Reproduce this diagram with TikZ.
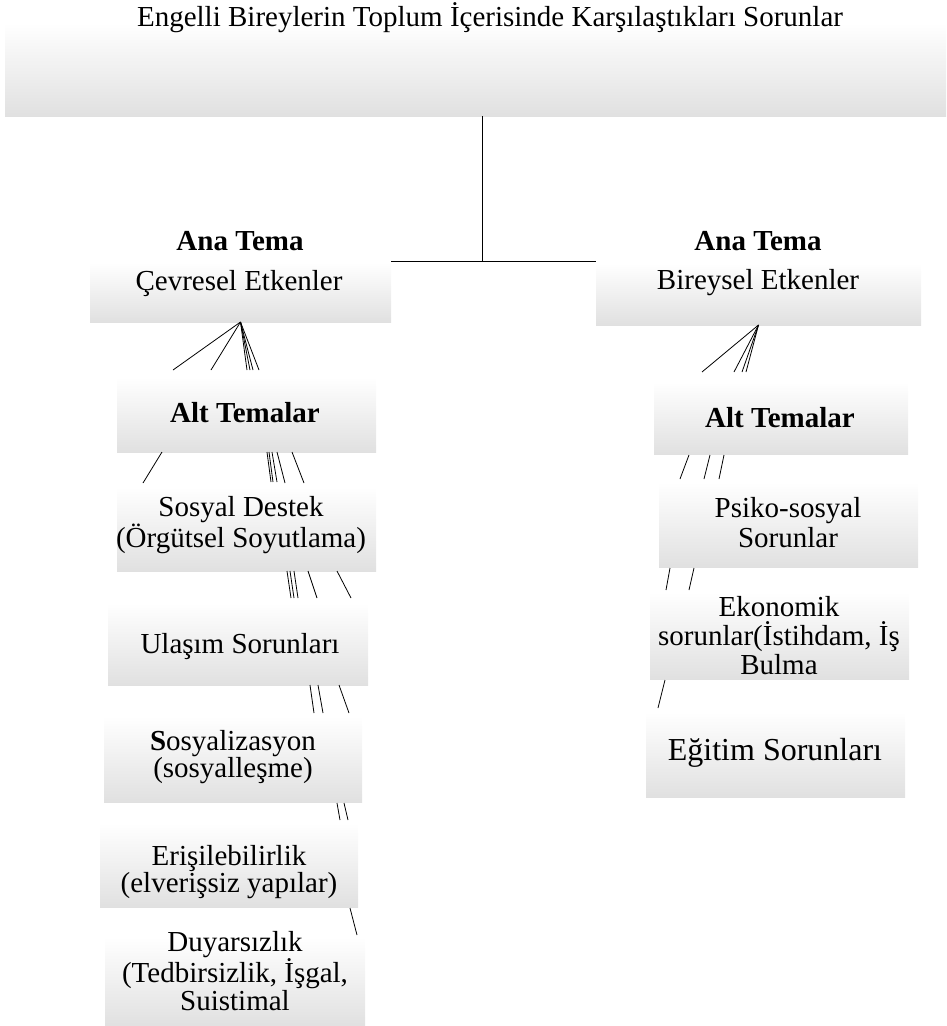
\documentclass[tikz,border=0pt]{standalone}
\usepackage{fontspec}
\setmainfont{Liberation Serif}
\newcommand\gbx[5]{\node[gbox, minimum width=#4pt, minimum height=#5pt] (#1) at (#2,#3) {};}
\begin{document}
\begin{tikzpicture}[x=1pt,y=-1pt,
  gbox/.style={draw=none, rectangle, inner sep=0pt, outer sep=0pt, anchor=north west, top color=white, bottom color=gray!24},
  txt/.style={inner sep=0pt, align=center, font=\fontsize{29}{26}\selectfont},
  ln/.style={line width=0.8pt, black}]
\useasboundingbox (0,0) rectangle (946,1026);
% boxes
\gbx{title}{5}{23}{941}{93}
\gbx{cev}{90}{263}{301}{59}
\gbx{bir}{596}{263}{325}{62}
\gbx{altL}{117}{377}{259}{75}
\gbx{altR}{654}{382}{254}{72}
\gbx{sos}{117}{487}{259}{84}
\gbx{ula}{108}{603}{260}{82}
\gbx{szn}{104}{716}{258}{86}
\gbx{eri}{100}{823}{258}{84}
\gbx{duy}{105}{937}{260}{89}
\gbx{psi}{659}{482}{259}{85}
\gbx{eko}{650}{592}{259}{87}
\gbx{egi}{646}{712}{259}{85}
% texts
\node[txt] (ttl) at (490,18) {Engelli Bireylerin Toplum İçerisinde Karşılaştıkları Sorunlar};
\node[txt, font=\fontsize{29}{26}\selectfont\bfseries] (anaL) at (240,241) {Ana Tema};
\node[txt] (cevT) at (239,284) {Çevresel Etkenler};
\node[txt, font=\fontsize{29}{26}\selectfont\bfseries] (anaR) at (758,241) {Ana Tema};
\node[txt] (birT) at (758,283) {Bireysel Etkenler};
\node[txt, font=\fontsize{29}{26}\selectfont\bfseries] (altLT) at (245,413) {Alt Temalar};
\node[txt, font=\fontsize{29}{26}\selectfont\bfseries] (altRT) at (780,418) {Alt Temalar};
\node[txt, font=\fontsize{29}{24}\selectfont] (sosT) at (241,525) {Sosyal Destek\\(Örgütsel Soyutlama)};
\node[txt] (ulaT) at (240,647) {Ulaşım Sorunları};
\node[txt, font=\fontsize{29}{27}\selectfont] (sznT) at (233,757) {\textbf{S}osyalizasyon\\(sosyalleşme)};
\node[txt, font=\fontsize{29}{27}\selectfont] (eriT) at (229,872) {Erişilebilirlik\\(elverişsiz yapılar)};
\node[txt, font=\fontsize{29}{26}\selectfont] (duyT) at (235,971) {Duyarsızlık\\(Tedbirsizlik, İşgal,\\Suistimal};
\node[txt, font=\fontsize{29}{30}\selectfont] (psiT) at (788,523) {Psiko-sosyal\\Sorunlar};
\node[txt, font=\fontsize{29}{29}\selectfont] (ekoT) at (779,636) {Ekonomik\\sorunlar(İstihdam, İş\\Bulma};
\node[txt, font=\fontsize{32}{30}\selectfont] (egiT) at (775,753) {Eğitim Sorunları};
% main connector
\coordinate (hub) at (482,261);
\draw[ln] (title.south -| hub) -- (hub);
\draw[ln] (hub) -- (cev.north east |- hub);
\draw[ln] (hub) -- (bir.north west |- hub);
% fan from Çevresel Etkenler
\foreach \e in {173,211,247,250,253,259} \draw[ln] (cev.south) -- (\e,370);
% fan from Bireysel Etkenler
\foreach \e in {702,734,742,746} \draw[ln] (bir.south) -- (\e,372);
% fragments below left Alt Temalar
\draw[ln] (162,452) -- (143,483);
\draw[ln] (267,452) -- (271,482);
\draw[ln] (269,452) -- (273,482);
\draw[ln] (272,452) -- (277,482);
\draw[ln] (277,452) -- (285,483);
\draw[ln] (292,452) -- (304,483);
% below Sosyal Destek
\draw[ln] (287,571) -- (291,598);
\draw[ln] (290,571) -- (294,598);
\draw[ln] (294,571) -- (298,598);
\draw[ln] (308,571) -- (317,598);
\draw[ln] (337,571) -- (351,598);
% below Ulaşım
\draw[ln] (310,685) -- (314,713);
\draw[ln] (318,685) -- (323,713);
\draw[ln] (339,685) -- (349,713);
% below Sosyalizasyon
\draw[ln] (337,803) -- (340,820);
\draw[ln] (344,803) -- (348,820);
% below Erişilebilirlik
\draw[ln] (350,908) -- (357,935);
% below right Alt Temalar
\draw[ln] (689,455) -- (680,479);
\draw[ln] (710,455) -- (704,479);
\draw[ln] (724,455) -- (719,479);
% below Psiko-sosyal
\draw[ln] (670,568) -- (666,590);
\draw[ln] (694,568) -- (689,590);
% below Ekonomik
\draw[ln] (665,680) -- (658,708);
\end{tikzpicture}
\end{document}
